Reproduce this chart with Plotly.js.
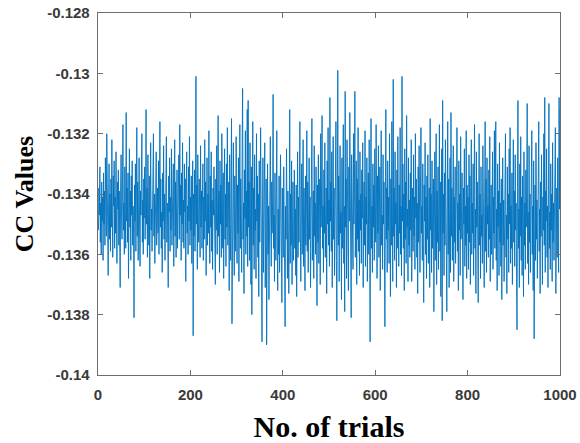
<!DOCTYPE html>
<html>
<head>
<meta charset="utf-8">
<script src="https://cdn.plot.ly/plotly-3.0.1.min.js"></script>
<style>html,body{margin:0;padding:0;background:#fff;}#chart{width:580px;height:443px;}</style>
</head>
<body>
<div id="chart"></div>
<script>
// CC value per trial (trials 1..1000)
const ccValues = [
-0.1352,-0.1338,-0.1347,-0.1331,-0.1356,-0.1343,-0.1360,-0.1336,-0.1349,-0.1341,-0.1362,-0.1333,-0.1350,-0.1339,-0.1357,-0.1328,-0.1346,-0.1354,-0.1320,-0.1348,-0.1337,-0.1367,-0.1342,-0.1330,-0.1355,
-0.1340,-0.1359,-0.1335,-0.1351,-0.1322,-0.1347,-0.1361,-0.1334,-0.1344,-0.1329,-0.1358,-0.1341,-0.1353,-0.1326,-0.1349,-0.1363,-0.1336,-0.1345,-0.1332,-0.1357,-0.1339,-0.1350,-0.1371,-0.1338,-0.1327,
-0.1348,-0.1355,-0.1336,-0.1317,-0.1352,-0.1343,-0.1360,-0.1331,-0.1346,-0.1358,-0.1313,-0.1349,-0.1338,-0.1356,-0.1333,-0.1368,-0.1342,-0.1325,-0.1351,-0.1339,-0.1362,-0.1334,-0.1347,-0.1329,-0.1357,
-0.1344,-0.1353,-0.1381,-0.1337,-0.1349,-0.1330,-0.1359,-0.1341,-0.1318,-0.1354,-0.1336,-0.1362,-0.1345,-0.1328,-0.1351,-0.1364,-0.1339,-0.1347,-0.1333,-0.1320,-0.1356,-0.1342,-0.1360,-0.1335,-0.1348,
-0.1331,-0.1355,-0.1343,-0.1312,-0.1350,-0.1338,-0.1361,-0.1327,-0.1346,-0.1357,-0.1334,-0.1368,-0.1341,-0.1323,-0.1352,-0.1345,-0.1359,-0.1332,-0.1348,-0.1320,-0.1354,-0.1340,-0.1363,-0.1336,-0.1349,
-0.1326,-0.1357,-0.1344,-0.1338,-0.1353,-0.1329,-0.1360,-0.1342,-0.1316,-0.1351,-0.1335,-0.1358,-0.1346,-0.1366,-0.1333,-0.1349,-0.1324,-0.1355,-0.1340,-0.1362,-0.1337,-0.1347,-0.1321,-0.1356,-0.1343,
-0.1350,-0.1371,-0.1334,-0.1346,-0.1328,-0.1359,-0.1341,-0.1352,-0.1325,-0.1357,-0.1338,-0.1348,-0.1330,-0.1364,-0.1343,-0.1322,-0.1354,-0.1336,-0.1361,-0.1345,-0.1332,-0.1358,-0.1340,-0.1351,-0.1327,
-0.1355,-0.1317,-0.1347,-0.1337,-0.1362,-0.1333,-0.1350,-0.1323,-0.1356,-0.1342,-0.1358,-0.1330,-0.1346,-0.1335,-0.1369,-0.1339,-0.1326,-0.1353,-0.1344,-0.1360,-0.1331,-0.1349,-0.1321,-0.1357,-0.1341,
-0.1352,-0.1334,-0.1363,-0.1345,-0.1329,-0.1387,-0.1340,-0.1354,-0.1332,-0.1359,-0.1343,-0.1301,-0.1350,-0.1337,-0.1365,-0.1327,-0.1348,-0.1356,-0.1335,-0.1344,-0.1361,-0.1324,-0.1351,-0.1339,-0.1358,
-0.1346,-0.1330,-0.1362,-0.1341,-0.1355,-0.1322,-0.1349,-0.1336,-0.1367,-0.1344,-0.1328,-0.1357,-0.1340,-0.1353,-0.1319,-0.1348,-0.1363,-0.1334,-0.1351,-0.1326,-0.1359,-0.1342,-0.1365,-0.1338,-0.1347,
-0.1331,-0.1356,-0.1343,-0.1370,-0.1335,-0.1352,-0.1324,-0.1360,-0.1345,-0.1314,-0.1354,-0.1339,-0.1366,-0.1329,-0.1350,-0.1337,-0.1361,-0.1320,-0.1347,-0.1358,-0.1333,-0.1368,-0.1342,-0.1325,-0.1355,
-0.1340,-0.1364,-0.1330,-0.1351,-0.1318,-0.1357,-0.1345,-0.1336,-0.1372,-0.1327,-0.1349,-0.1362,-0.1338,-0.1315,-0.1383,-0.1343,-0.1356,-0.1323,-0.1352,-0.1367,-0.1334,-0.1348,-0.1359,-0.1321,-0.1346,
-0.1363,-0.1337,-0.1353,-0.1328,-0.1369,-0.1341,-0.1317,-0.1358,-0.1335,-0.1350,-0.1366,-0.1326,-0.1305,-0.1355,-0.1343,-0.1373,-0.1332,-0.1348,-0.1319,-0.1360,-0.1339,-0.1354,-0.1312,-0.1364,-0.1309,
-0.1351,-0.1336,-0.1362,-0.1323,-0.1347,-0.1370,-0.1331,-0.1380,-0.1342,-0.1316,-0.1357,-0.1338,-0.1365,-0.1327,-0.1352,-0.1345,-0.1368,-0.1320,-0.1349,-0.1334,-0.1361,-0.1340,-0.1374,-0.1329,-0.1356,
-0.1343,-0.1318,-0.1363,-0.1337,-0.1389,-0.1350,-0.1328,-0.1366,-0.1341,-0.1355,-0.1323,-0.1371,-0.1346,-0.1335,-0.1390,-0.1352,-0.1330,-0.1360,-0.1344,-0.1375,-0.1339,-0.1357,-0.1321,-0.1348,-0.1364,
-0.1336,-0.1353,-0.1342,-0.1307,-0.1358,-0.1347,-0.1369,-0.1333,-0.1351,-0.1362,-0.1340,-0.1319,-0.1356,-0.1372,-0.1345,-0.1360,-0.1334,-0.1366,-0.1349,-0.1327,-0.1357,-0.1343,-0.1376,-0.1338,-0.1353,
-0.1361,-0.1331,-0.1348,-0.1365,-0.1384,-0.1344,-0.1355,-0.1325,-0.1359,-0.1368,-0.1339,-0.1352,-0.1373,-0.1346,-0.1312,-0.1363,-0.1340,-0.1357,-0.1329,-0.1370,-0.1349,-0.1336,-0.1362,-0.1354,-0.1332,
-0.1358,-0.1345,-0.1367,-0.1337,-0.1374,-0.1350,-0.1326,-0.1361,-0.1341,-0.1356,-0.1335,-0.1316,-0.1353,-0.1369,-0.1343,-0.1330,-0.1360,-0.1347,-0.1322,-0.1364,-0.1338,-0.1351,-0.1372,-0.1334,-0.1357,
-0.1344,-0.1319,-0.1359,-0.1336,-0.1366,-0.1348,-0.1328,-0.1355,-0.1341,-0.1371,-0.1333,-0.1352,-0.1315,-0.1362,-0.1346,-0.1339,-0.1368,-0.1324,-0.1354,-0.1343,-0.1360,-0.1331,-0.1349,-0.1377,-0.1337,
-0.1356,-0.1327,-0.1363,-0.1345,-0.1335,-0.1370,-0.1320,-0.1351,-0.1340,-0.1314,-0.1358,-0.1344,-0.1366,-0.1332,-0.1353,-0.1323,-0.1361,-0.1347,-0.1338,-0.1373,-0.1329,-0.1350,-0.1318,-0.1357,-0.1342,
-0.1364,-0.1308,-0.1349,-0.1336,-0.1359,-0.1326,-0.1371,-0.1343,-0.1321,-0.1355,-0.1338,-0.1367,-0.1330,-0.1352,-0.1316,-0.1362,-0.1382,-0.1345,-0.1299,-0.1357,-0.1334,-0.1369,-0.1340,-0.1324,-0.1353,
-0.1346,-0.1375,-0.1328,-0.1358,-0.1339,-0.1317,-0.1363,-0.1344,-0.1379,-0.1306,-0.1351,-0.1335,-0.1368,-0.1322,-0.1356,-0.1341,-0.1372,-0.1331,-0.1349,-0.1313,-0.1360,-0.1337,-0.1381,-0.1327,-0.1354,
-0.1343,-0.1365,-0.1320,-0.1350,-0.1338,-0.1306,-0.1361,-0.1347,-0.1329,-0.1370,-0.1335,-0.1355,-0.1318,-0.1359,-0.1342,-0.1367,-0.1326,-0.1352,-0.1340,-0.1363,-0.1332,-0.1348,-0.1323,-0.1371,-0.1345,
-0.1336,-0.1357,-0.1319,-0.1364,-0.1341,-0.1350,-0.1328,-0.1369,-0.1346,-0.1333,-0.1360,-0.1322,-0.1354,-0.1389,-0.1339,-0.1315,-0.1358,-0.1344,-0.1366,-0.1330,-0.1351,-0.1337,-0.1362,-0.1325,-0.1348,
-0.1356,-0.1317,-0.1342,-0.1368,-0.1334,-0.1353,-0.1324,-0.1361,-0.1345,-0.1331,-0.1372,-0.1339,-0.1319,-0.1357,-0.1347,-0.1365,-0.1327,-0.1350,-0.1336,-0.1360,-0.1384,-0.1343,-0.1312,-0.1355,-0.1338,
-0.1366,-0.1329,-0.1352,-0.1341,-0.1363,-0.1320,-0.1348,-0.1374,-0.1335,-0.1357,-0.1316,-0.1346,-0.1369,-0.1302,-0.1354,-0.1338,-0.1362,-0.1326,-0.1350,-0.1343,-0.1371,-0.1332,-0.1358,-0.1321,-0.1347,
-0.1364,-0.1337,-0.1353,-0.1318,-0.1360,-0.1344,-0.1367,-0.1301,-0.1349,-0.1330,-0.1358,-0.1340,-0.1372,-0.1325,-0.1355,-0.1336,-0.1363,-0.1314,-0.1351,-0.1345,-0.1369,-0.1328,-0.1357,-0.1342,-0.1361,
-0.1333,-0.1352,-0.1322,-0.1369,-0.1346,-0.1338,-0.1359,-0.1327,-0.1354,-0.1341,-0.1365,-0.1320,-0.1348,-0.1335,-0.1361,-0.1343,-0.1373,-0.1331,-0.1356,-0.1324,-0.1350,-0.1366,-0.1339,-0.1318,-0.1353,
-0.1344,-0.1362,-0.1330,-0.1357,-0.1376,-0.1337,-0.1349,-0.1323,-0.1360,-0.1341,-0.1368,-0.1334,-0.1355,-0.1327,-0.1363,-0.1345,-0.1338,-0.1371,-0.1315,-0.1352,-0.1340,-0.1366,-0.1329,-0.1358,-0.1347,
-0.1335,-0.1379,-0.1351,-0.1326,-0.1362,-0.1343,-0.1320,-0.1370,-0.1339,-0.1356,-0.1331,-0.1365,-0.1347,-0.1317,-0.1359,-0.1336,-0.1374,-0.1344,-0.1325,-0.1382,-0.1309,-0.1353,-0.1340,-0.1367,-0.1333,
-0.1357,-0.1322,-0.1348,-0.1364,-0.1379,-0.1342,-0.1316,-0.1360,-0.1335,-0.1371,-0.1350,-0.1328,-0.1366,-0.1313,-0.1354,-0.1338,-0.1362,-0.1345,-0.1324,-0.1369,-0.1341,-0.1356,-0.1331,-0.1363,-0.1347,
-0.1336,-0.1318,-0.1359,-0.1343,-0.1372,-0.1329,-0.1352,-0.1340,-0.1367,-0.1321,-0.1355,-0.1346,-0.1333,-0.1361,-0.1375,-0.1338,-0.1350,-0.1325,-0.1364,-0.1344,-0.1357,-0.1319,-0.1368,-0.1337,-0.1353,
-0.1341,-0.1365,-0.1327,-0.1356,-0.1334,-0.1370,-0.1348,-0.1322,-0.1360,-0.1343,-0.1353,-0.1330,-0.1367,-0.1339,-0.1317,-0.1358,-0.1345,-0.1373,-0.1326,-0.1351,-0.1336,-0.1362,-0.1376,-0.1342,-0.1320,
-0.1357,-0.1340,-0.1368,-0.1331,-0.1354,-0.1347,-0.1363,-0.1324,-0.1352,-0.1338,-0.1371,-0.1343,-0.1316,-0.1359,-0.1335,-0.1366,-0.1328,-0.1350,-0.1344,-0.1361,-0.1332,-0.1355,-0.1321,-0.1369,-0.1346,
-0.1337,-0.1360,-0.1348,-0.1326,-0.1365,-0.1341,-0.1353,-0.1319,-0.1358,-0.1334,-0.1316,-0.1362,-0.1345,-0.1372,-0.1330,-0.1351,-0.1339,-0.1367,-0.1323,-0.1356,-0.1343,-0.1364,-0.1335,-0.1375,-0.1349,
-0.1328,-0.1357,-0.1342,-0.1369,-0.1336,-0.1352,-0.1320,-0.1361,-0.1347,-0.1373,-0.1331,-0.1355,-0.1340,-0.1366,-0.1325,-0.1350,-0.1318,-0.1363,-0.1344,-0.1358,-0.1333,-0.1370,-0.1346,-0.1322,-0.1356,
-0.1339,-0.1364,-0.1327,-0.1352,-0.1343,-0.1368,-0.1385,-0.1336,-0.1309,-0.1358,-0.1345,-0.1371,-0.1330,-0.1354,-0.1321,-0.1362,-0.1341,-0.1367,-0.1334,-0.1350,-0.1374,-0.1326,-0.1357,-0.1343,-0.1365,
-0.1332,-0.1351,-0.1338,-0.1310,-0.1363,-0.1346,-0.1370,-0.1324,-0.1356,-0.1340,-0.1366,-0.1335,-0.1353,-0.1319,-0.1360,-0.1344,-0.1372,-0.1329,-0.1388,-0.1348,-0.1337,-0.1362,-0.1323,-0.1355,-0.1342,
-0.1368,-0.1331,-0.1350,-0.1316,-0.1359,-0.1345,-0.1373,-0.1336,-0.1354,-0.1327,-0.1363,-0.1370,-0.1341,-0.1352,-0.1320,-0.1357,-0.1308,-0.1366,-0.1339,-0.1349,-0.1325,-0.1361,-0.1344,-0.1371,-0.1333,
-0.1310,-0.1358,-0.1346,-0.1365,-0.1330,-0.1352,-0.1340,-0.1369,-0.1323,-0.1356,-0.1343,-0.1362,-0.1335,-0.1350,-0.1318,-0.1373,-0.1347,-0.1338,-0.1361,-0.1328,-0.1354,-0.1366,-0.1308,-0.1345,-0.1312
];
const trials = ccValues.map((v, i) => i + 1);

const xTickVals = [0, 200, 400, 600, 800, 1000];
const xTickText = ["0", "200", "400", "600", "800", "1000"];
const yTickVals = [-0.14, -0.138, -0.136, -0.134, -0.132, -0.13, -0.128];
const yTickText = ["-0.14", "-0.138", "-0.136", "-0.134", "-0.132", "-0.13", "-0.128"];

const tickFont = {family: "Liberation Sans, Arial, sans-serif", size: 15, color: "#3a3a3a", weight: "bold"};
const titleFont = {family: "Liberation Serif, Times New Roman, serif", size: 30, color: "#000", weight: "bold"};

const trace = {
  x: trials, y: ccValues, type: "scatter", mode: "lines",
  line: {color: "#0072BD", width: 0.9}, hoverinfo: "none"
};

const axisCommon = {
  showline: true, linecolor: "#6e6e6e", linewidth: 1.3, mirror: "ticks",
  ticks: "inside", ticklen: 5, tickcolor: "#6e6e6e", tickwidth: 1,
  showgrid: false, zeroline: false, tickfont: tickFont, tickmode: "array"
};

const layout = {
  width: 580, height: 443,
  margin: {l: 98, r: 20, t: 13, b: 68, pad: 0},
  paper_bgcolor: "#fff", plot_bgcolor: "#fff",
  showlegend: false,
  xaxis: Object.assign({}, axisCommon, {
    range: [0, 1000], tickvals: xTickVals, ticktext: xTickText,
    ticklabelstandoff: 6,
    title: {text: "No. of trials", font: titleFont, standoff: 14}
  }),
  yaxis: Object.assign({}, axisCommon, {
    range: [-0.14, -0.128], tickvals: yTickVals, ticktext: yTickText,
    ticklabelstandoff: 4,
    title: {text: "CC Values", font: Object.assign({}, titleFont, {size: 26}), standoff: 6}
  })
};

Plotly.newPlot("chart", [trace], layout, {staticPlot: true, displayModeBar: false});
</script>
</body>
</html>
